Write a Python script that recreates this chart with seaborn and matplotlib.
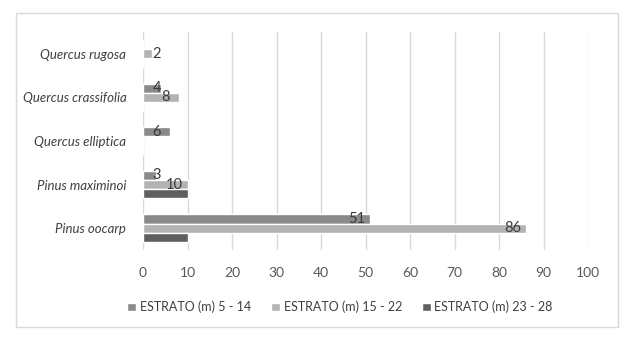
import matplotlib
matplotlib.use("Agg")
import matplotlib.pyplot as plt
import seaborn as sns
import pandas as pd
from matplotlib.patches import Rectangle

species = ["Quercus rugosa", "Quercus crassifolia", "Quercus elliptica", "Pinus maximinoi", "Pinus oocarp"]
series_names = ["ESTRATO (m) 5 - 14", "ESTRATO (m) 15 - 22", "ESTRATO (m) 23 - 28"]
estrato_5_14 = [0, 4, 6, 3, 51]
estrato_15_22 = [2, 8, 0, 10, 86]
estrato_23_28 = [0, 0, 0, 10, 10]
labelled = [True, True, False]
colors = ["#8a8a8a", "#b3b3b3", "#5f5f5f"]
xticks = list(range(0, 101, 10))

sns.set_theme(style="white")
plt.rcParams["font.family"] = ["Lato", "DejaVu Sans"]

rows = []
for name, vals in zip(series_names, [estrato_5_14, estrato_15_22, estrato_23_28]):
    for sp, v in zip(species, vals):
        rows.append({"species": sp, "value": v, "estrato": name})
df = pd.DataFrame(rows)

fig = plt.figure(figsize=(6.38, 3.5), dpi=100)
ax = fig.add_axes([143/638, 1-250/350, 445/638, 218/350])

sns.barplot(data=df, y="species", x="value", hue="estrato", orient="h",
            order=species, hue_order=series_names, palette=colors,
            width=0.636, ax=ax, legend=True, saturation=1)

# data labels (inside end, Excel-like)
for cont, lab in zip(ax.containers, labelled):
    if not lab:
        continue
    for bar in cont:
        v = bar.get_width()
        if v <= 0:
            continue
        cy = bar.get_y() + bar.get_height() / 2
        cx = max(v - 2.9, 3.1)
        ax.text(cx, cy, f"{int(round(v))}", ha="center", va="center",
                fontsize=10.5, color="#3a3a3a")

ax.set_xlim(0, 100)
ax.set_xticks(xticks)
ax.set_xticklabels([str(t) for t in xticks])
ax.set_xlabel("")
ax.set_ylabel("")
for s in ax.spines.values():
    s.set_visible(False)
ax.grid(axis="x", color="#d9d9d9", linewidth=1)
ax.grid(axis="y", visible=False)
ax.set_axisbelow(True)
ax.tick_params(axis="x", length=0, pad=12, labelsize=10, labelcolor="#595959")
ax.tick_params(axis="y", length=0, pad=12, labelsize=9.5, labelcolor="#404040")
for t in ax.get_yticklabels():
    t.set_fontstyle("italic")

handles, labels = ax.get_legend_handles_labels()
ax.get_legend().remove()
fig.legend(handles, labels, loc="center", bbox_to_anchor=(340/638, 1-307/350),
           ncol=3, frameon=False, fontsize=9, handlelength=0.7, handleheight=0.7,
           handletextpad=0.3, columnspacing=1.6, labelcolor="#404040")

fig.patches.append(Rectangle((16/638, 1-327/350), 602/638, 314/350,
                             transform=fig.transFigure, fill=False,
                             edgecolor="#d9d9d9", linewidth=1))

fig.savefig("out.png", dpi=100)
